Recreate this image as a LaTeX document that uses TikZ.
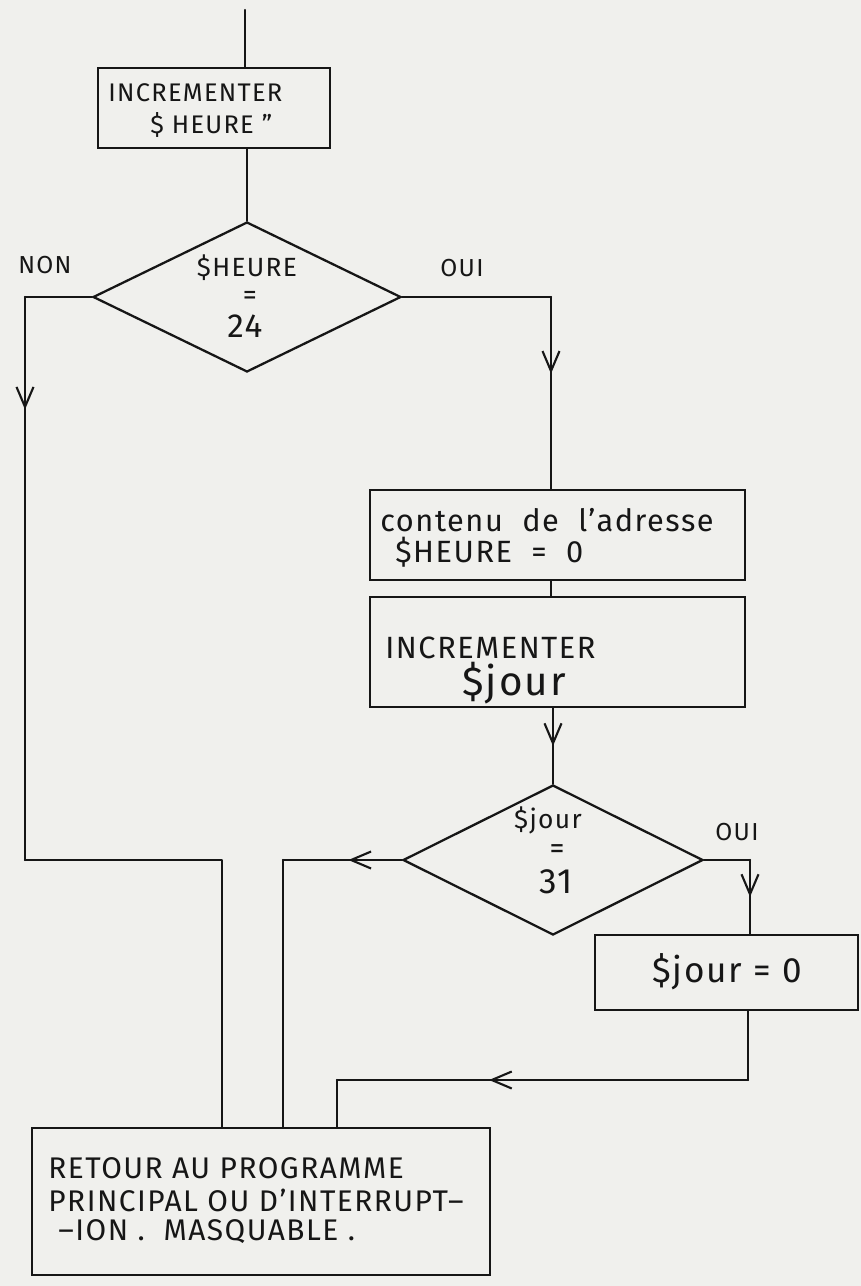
\documentclass[tikz,border=0pt]{standalone}
\usepackage{fontspec}
\setmainfont{Fira Sans}
\usetikzlibrary{shapes.geometric,arrows.meta,decorations.markings}
\definecolor{paper}{RGB}{240,240,237}
\definecolor{ink}{RGB}{22,22,22}
\begin{document}
\begin{tikzpicture}[x=0.02cm,y=-0.02cm,
  box/.style={draw=ink, line width=1.3pt, rectangle, inner sep=0pt},
  dia/.style={draw=ink, line width=1.3pt, diamond, inner sep=0pt},
  conn/.style={draw=ink, line width=1.3pt, line cap=round, line join=round},
  arrmid/.style={postaction={decorate}, decoration={markings, mark=at position #1 with {\arrow{Straight Barb[length=4mm,width=3.4mm,line width=1.2pt]}}}},
  txt/.style={text=ink, anchor=west, inner sep=0pt},
  ctxt/.style={text=ink, anchor=center, inner sep=0pt},
  fs/.style={font=\fontsize{#1}{#1}\selectfont\addfontfeature{LetterSpace=5}}]
\fill[paper] (0,0) rectangle (861,1286);
\useasboundingbox (0,0) rectangle (861,1286);

% boxes
\node[box, minimum width=4.64cm, minimum height=1.6cm] (b1) at (214,108) {};
\node[box, minimum width=7.5cm, minimum height=1.8cm] (b2) at (557.5,535) {};
\node[box, minimum width=7.5cm, minimum height=2.2cm] (b3) at (557.5,652) {};
\node[box, minimum width=5.26cm, minimum height=1.5cm] (b4) at (726.5,972.5) {};
\node[box, minimum width=9.16cm, minimum height=2.94cm] (b5) at (261,1201.5) {};
% decisions
\node[dia, minimum width=6.16cm, minimum height=3cm] (d1) at (247,297) {};
\node[dia, minimum width=6cm, minimum height=3cm] (d2) at (553,860) {};

% texts
\node[txt, fs=14.5] (t1a) at (108,93) {INCREMENTER};
\node[txt, fs=14.5] (t1b) at (150,125) {\$ HEURE ”};
\node[ctxt, fs=15] (td1a) at (247,268) {\$HEURE};
\node[ctxt, fs=16] (td1b) at (250,298) {=};
\node[ctxt, fs=19] (td1c) at (245,326) {24};
\node[ctxt, fs=14] (non) at (45,265) {NON};
\node[ctxt, fs=14] (oui1) at (462,268) {OUI};
\node[txt, fs=17.5] (t2a) at (380,520) {contenu\ \ de\ \ l'adresse};
\node[txt, fs=17.5] (t2b) at (395,552) {\$HEURE\ \ =\ \ 0};
\node[txt, fs=17.5] (t3a) at (385,648) {INCREMENTER};
\node[txt, fs=23] (t3b) at (462,683) {\$jour};
\node[ctxt, fs=15] (td2a) at (548,820) {\$jour};
\node[ctxt, fs=17] (td2b) at (557,852) {=};
\node[ctxt, fs=20] (td2c) at (556,882) {31};
\node[ctxt, fs=14] (oui2) at (737,832) {OUI};
\node[ctxt, fs=20] (t4) at (727,972) {\$jour = 0};
\node[txt, fs=17] (t5a) at (48,1168) {RETOUR AU PROGRAMME};
\node[txt, fs=17] (t5b) at (48,1200) {PRINCIPAL OU D'INTERRUPT–};
\node[txt, fs=17] (t5c) at (58,1232) {–ION .\ \ MASQUABLE .};

% connectors
\coordinate (s0) at (245,10);
\draw[conn] (s0) -- (s0 |- b1.north);
\draw[conn] (d1.north |- b1.south) -- (d1.north);

\coordinate (nL1) at (25,297);
\coordinate (nL2) at (25,860);
\coordinate (nL3) at (222,860);
\draw[conn] (d1.west) -- (nL1);
\draw[conn,arrmid=0.2] (nL1) -- (nL2);
\draw[conn] (nL2) -- (nL3) -- (nL3 |- b5.north);

\coordinate (oR1) at (551,297);
\draw[conn] (d1.east) -- (oR1);
\draw[conn,arrmid=0.4] (oR1) -- (oR1 |- b2.north);
\draw[conn] (oR1 |- b2.south) -- (oR1 |- b3.north);
\draw[conn,arrmid=0.5] (d2.north |- b3.south) -- (d2.north);

\coordinate (jL) at (283,860);
\draw[conn,arrmid=0.45] (d2.west) -- (jL);
\draw[conn] (jL) -- (jL |- b5.north);

\coordinate (jR) at (750,860);
\draw[conn] (d2.east) -- (jR);
\draw[conn,arrmid=0.5] (jR) -- (jR |- b4.north);

\coordinate (k1) at (748,1080);
\coordinate (k2) at (337,1080);
\draw[conn] (k1 |- b4.south) -- (k1);
\draw[conn,arrmid=0.63] (k1) -- (k2);
\draw[conn] (k2) -- (k2 |- b5.north);
\end{tikzpicture}
\end{document}
